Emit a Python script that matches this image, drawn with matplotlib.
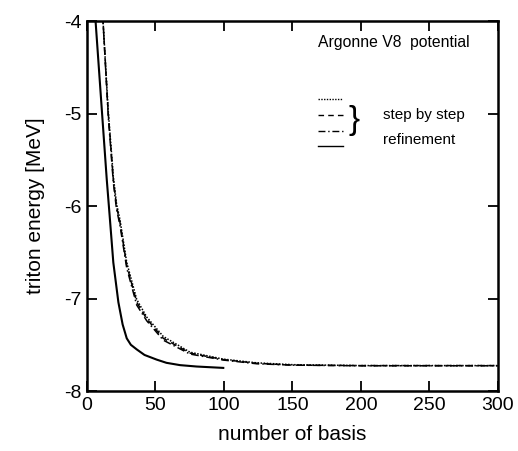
import matplotlib
matplotlib.use("Agg")
from matplotlib import pyplot as plt

plt.rcParams['font.family'] = ['Liberation Sans', 'DejaVu Sans']

# refinement run
n_ref = [6.0, 11, 14.4, 16.5, 19.2, 22.9, 26, 29, 32, 36.3, 42, 50.8, 58, 67.9, 80, 99.5]
e_ref = [-3.95, -5.0, -5.71, -6.1, -6.61, -7.04, -7.28, -7.43, -7.5, -7.55, -7.61, -7.66, -7.695, -7.72, -7.735, -7.75]

# step by step runs
n_step = [11.5, 15.5, 19.2, 21.5, 24.1, 29, 36.3, 43.6, 55.7, 75.2, 99.5, 123.8, 150, 200, 250, 300]
e_dot = [-3.95, -4.97, -5.68, -5.97, -6.15, -6.61, -7.01, -7.2, -7.41, -7.58, -7.655, -7.695, -7.715, -7.725, -7.725, -7.725]
e_dash = [-3.95, -5.0, -5.71, -6.0, -6.18, -6.64, -7.04, -7.22, -7.43, -7.59, -7.66, -7.7, -7.72, -7.725, -7.725, -7.725]
e_dashdot = [-3.95, -5.03, -5.74, -6.03, -6.21, -6.67, -7.07, -7.24, -7.45, -7.6, -7.665, -7.705, -7.72, -7.727, -7.727, -7.727]

fig = plt.figure(figsize=(5.18, 4.51), dpi=100)
ax = fig.add_axes([0.168, 0.133, 0.793, 0.820])

ax.plot(n_step, e_dot, color='black', lw=1.1, linestyle=(0, (1, 1)))
ax.plot(n_step, e_dash, color='black', lw=1.1, linestyle=(0, (4, 3)))
ax.plot(n_step, e_dashdot, color='black', lw=1.1, linestyle=(0, (5, 2, 1, 2)))
ax.plot(n_ref, e_ref, color='black', lw=1.5)

ax.set_xlim(0, 300)
ax.set_ylim(-8, -4)
ax.set_xticks([0, 50, 100, 150, 200, 250, 300])
ax.set_yticks([-8, -7, -6, -5, -4])
ax.set_yticklabels(['-8', '-7', '-6', '-5', '-4'])
ax.tick_params(direction='in', length=7, width=1.3, labelsize=14,
               top=True, right=True, pad=4)
for s in ax.spines.values():
    s.set_linewidth(1.8)

ax.set_xlabel('number of basis', fontsize=15, labelpad=8.5)
ax.set_ylabel('triton energy [MeV]', fontsize=15, labelpad=13.5)

# legend drawn by hand
ax.text(169, -4.23, 'Argonne V8  potential', fontsize=11.3, va='center')
legend_styles = [(0, (1, 1)), (0, (4, 3)), (0, (5, 2, 1, 2)), '-']
legend_y = [-4.84, -5.01, -5.19, -5.35]
for ls, y in zip(legend_styles, legend_y):
    ax.plot([169, 187], [y, y], color='black', lw=1.0, linestyle=ls)
ax.text(195, -5.07, '}', fontsize=24, va='center', ha='center')
ax.text(216, -5.01, 'step by step', fontsize=11, va='center')
ax.text(216, -5.28, 'refinement', fontsize=11, va='center')

fig.savefig('out.png', dpi=100)
